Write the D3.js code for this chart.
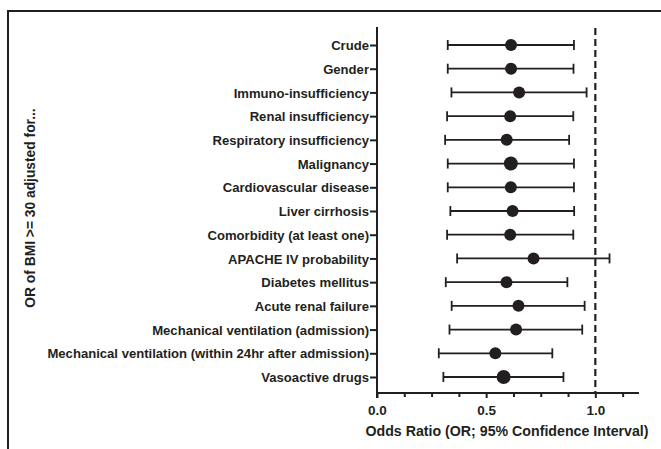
<!DOCTYPE html>
<html><head><meta charset="utf-8">
<script src="https://cdn.jsdelivr.net/npm/d3@7"></script>
<style>
html,body{margin:0;padding:0;background:#fff;}
svg{display:block;font-family:"Liberation Sans",Arial,sans-serif;}
</style></head>
<body>
<svg id="chart" width="661" height="449"></svg>
<script>
const categories = ["Crude","Gender","Immuno-insufficiency","Renal insufficiency","Respiratory insufficiency","Malignancy","Cardiovascular disease","Liver cirrhosis","Comorbidity (at least one)","APACHE IV probability","Diabetes mellitus","Acute renal failure","Mechanical ventilation (admission)","Mechanical ventilation (within 24hr after admission)","Vasoactive drugs"];
const oddsRatio = [0.614,0.614,0.651,0.610,0.594,0.613,0.613,0.621,0.610,0.717,0.593,0.648,0.637,0.542,0.580];
const ciLower   = [0.324,0.324,0.341,0.321,0.312,0.324,0.324,0.336,0.321,0.367,0.315,0.342,0.332,0.283,0.304];
const ciUpper   = [0.902,0.900,0.960,0.899,0.880,0.902,0.902,0.903,0.899,1.065,0.872,0.951,0.940,0.803,0.854];
const majorTicks = [0.0,0.5,1.0];
const tickLabels = ["0.0","0.5","1.0"];
const minorTicks = [0.125,0.25,0.375,0.625,0.75,0.875,1.125];
const referenceLine = 1.0;
const xDomain = [0,1.2];
const yTitle = "OR of BMI >= 30 adjusted for...";
const xTitle = "Odds Ratio (OR; 95% Confidence Interval)";

const data = categories.map((c,i)=>({cat:c, or:oddsRatio[i], lo:ciLower[i], hi:ciUpper[i]}));
const bigMarkers = new Set(["Malignancy","Vasoactive drugs"]);

const svg = d3.select("#chart");
const col = "#231f20";

// frame
svg.append("path").attr("d","M8,449 L8,11 L661,11").attr("fill","none").attr("stroke",col).attr("stroke-width",2);

const x = d3.scaleLinear().domain(xDomain).range([377,639]);
const y = d3.scalePoint().domain(categories).range([45,377]);

// y axis
const gy = svg.append("g").attr("transform","translate(377,0)");
gy.append("line").attr("x1",0).attr("x2",0).attr("y1",27).attr("y2",398).attr("stroke",col).attr("stroke-width",2);
const yAx = d3.axisLeft(y).tickSize(7).tickPadding(1);
const gyt = svg.append("g").attr("transform","translate(377,0)").call(yAx);
gyt.select(".domain").remove();
gyt.selectAll(".tick line").attr("stroke",col).attr("stroke-width",2);
gyt.selectAll(".tick text").attr("fill",col).attr("font-size","13.1px").attr("font-weight","bold").attr("dy","0.35em");

// x axis
const gx = svg.append("g").attr("transform","translate(0,393)");
gx.append("line").attr("x1",376).attr("x2",639).attr("y1",0).attr("y2",0).attr("stroke",col).attr("stroke-width",2);
const xAx = d3.axisBottom(x).tickValues(majorTicks).tickFormat((d,i)=>tickLabels[i]).tickSize(5).tickPadding(7);
const gxt = svg.append("g").attr("transform","translate(0,393)").call(xAx);
gxt.select(".domain").remove();
gxt.selectAll(".tick line").attr("stroke",col).attr("stroke-width",2);
gxt.selectAll(".tick text").attr("fill",col).attr("font-size","13.5px").attr("font-weight","bold");
const xAxMinor = d3.axisBottom(x).tickValues(minorTicks).tickFormat("").tickSize(4);
const gxm = svg.append("g").attr("transform","translate(0,393)").call(xAxMinor);
gxm.select(".domain").remove();
gxm.selectAll(".tick line").attr("stroke",col).attr("stroke-width",2);

// reference line
svg.append("line").attr("x1",x(referenceLine)).attr("x2",x(referenceLine)).attr("y1",28).attr("y2",392)
  .attr("stroke",col).attr("stroke-width",2.2).attr("stroke-dasharray","7,4");

// error bars
const g = svg.append("g");
const rows = g.selectAll("g.row").data(data).enter().append("g").attr("class","row");
rows.append("line").attr("x1",d=>x(d.lo)).attr("x2",d=>x(d.hi)).attr("y1",d=>y(d.cat)).attr("y2",d=>y(d.cat)).attr("stroke",col).attr("stroke-width",1.8);
rows.append("line").attr("x1",d=>x(d.lo)).attr("x2",d=>x(d.lo)).attr("y1",d=>y(d.cat)-5).attr("y2",d=>y(d.cat)+5).attr("stroke",col).attr("stroke-width",1.8);
rows.append("line").attr("x1",d=>x(d.hi)).attr("x2",d=>x(d.hi)).attr("y1",d=>y(d.cat)-5).attr("y2",d=>y(d.cat)+5).attr("stroke",col).attr("stroke-width",1.8);
rows.append("circle").attr("cx",d=>x(d.or)).attr("cy",d=>y(d.cat)).attr("r",d=>bigMarkers.has(d.cat)?7:6).attr("fill",col);

// titles
svg.append("text").attr("x",507).attr("y",436).attr("text-anchor","middle").attr("fill",col)
  .attr("font-size","14.2px").attr("font-weight","bold").text(xTitle);
svg.append("text").attr("transform","translate(35,208) rotate(-90)").attr("text-anchor","middle").attr("fill",col)
  .attr("font-size","13.8px").attr("font-weight","bold").text(yTitle);
</script>
</body></html>
